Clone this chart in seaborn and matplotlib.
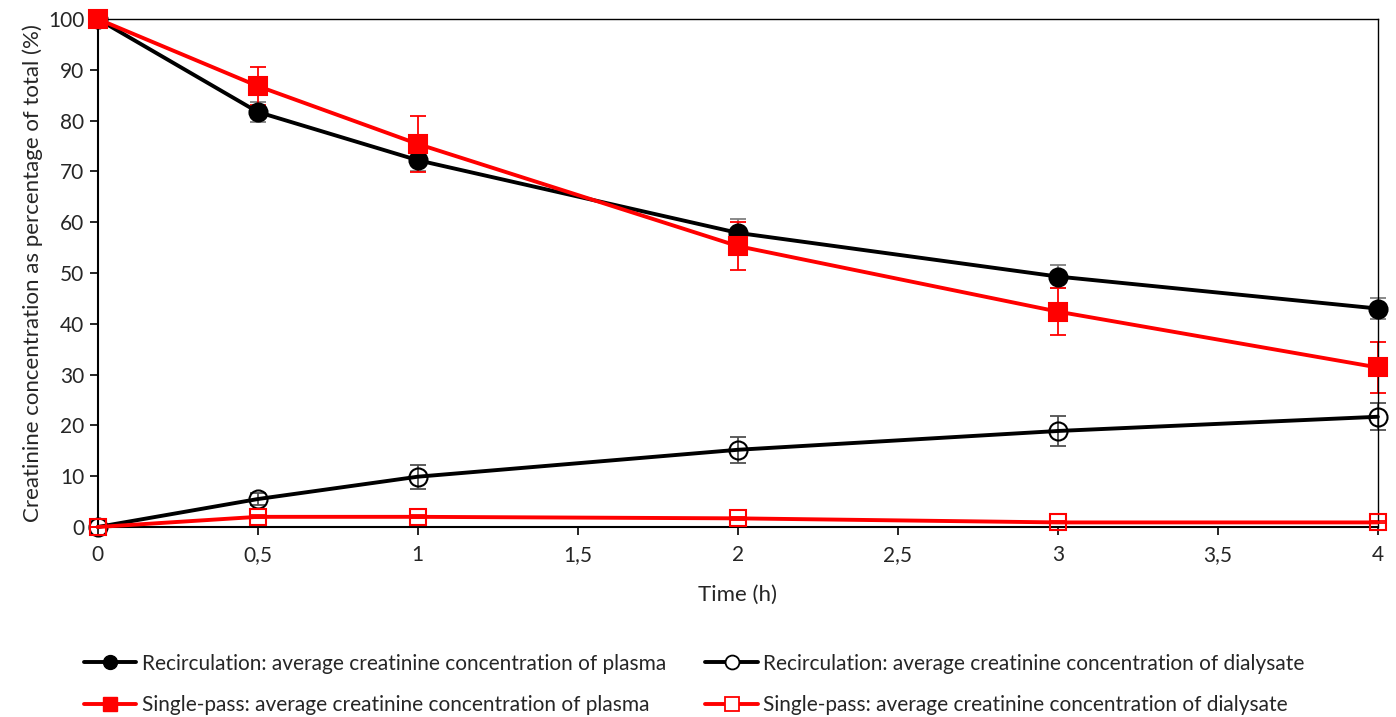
import numpy as np
import pandas as pd
import matplotlib
matplotlib.use('Agg')
import matplotlib.pyplot as plt
from matplotlib.lines import Line2D
from matplotlib.ticker import FuncFormatter, MultipleLocator
import seaborn as sns

time_h = [0, 0.5, 1, 2, 3, 4]

recirc_plasma = [100, 81.7, 72.2, 57.9, 49.3, 43.0]
recirc_plasma_err = [0, 2.0, 2.2, 2.7, 2.2, 2.0]
recirc_dialysate = [0, 5.5, 9.9, 15.2, 18.9, 21.7]
recirc_dialysate_err = [0, 1.2, 2.4, 2.6, 3.0, 2.7]
single_plasma = [100, 86.8, 75.4, 55.3, 42.4, 31.4]
single_plasma_err = [0, 3.7, 5.5, 4.7, 4.7, 5.0]
single_dialysate = [0, 2.0, 2.0, 1.7, 0.9, 0.9]
single_dialysate_err = [0, 0.3, 0.3, 0.3, 0.2, 0.2]

labels = [
    'Recirculation: average creatinine concentration of plasma',
    'Recirculation: average creatinine concentration of dialysate',
    'Single-pass: average creatinine concentration of plasma',
    'Single-pass: average creatinine concentration of dialysate',
]

sns.set_style('white')
plt.rcParams['font.family'] = ['Lato', 'DejaVu Sans']

fig = plt.figure(figsize=(13.96, 7.17), dpi=100)
ax = fig.add_axes([0.070, 0.265, 0.917, 0.7085])

series = [
    (recirc_plasma, recirc_plasma_err, 'black', '#808080', 'o', 'black', 13),
    (recirc_dialysate, recirc_dialysate_err, 'black', '#505050', 'o', 'none', 13),
    (single_plasma, single_plasma_err, 'red', 'red', 's', 'red', 13),
    (single_dialysate, single_dialysate_err, 'red', 'red', 's', 'none', 12),
]

for vals, errs, col, ecol, mk, face, ms in series:
    ax.errorbar(time_h, vals, yerr=errs, fmt='none', ecolor=ecol,
                elinewidth=1.3, capsize=6, capthick=1.3, zorder=2, clip_on=False)
    df = pd.DataFrame({'t': time_h, 'v': vals})
    sns.lineplot(data=df, x='t', y='v', ax=ax, color=col, linewidth=2.8,
                 marker=mk, markersize=ms, markerfacecolor=face,
                 markeredgecolor=col, markeredgewidth=1.5, zorder=3,
                 clip_on=False)

ax.set_xlim(0, 4)
ax.set_ylim(0, 100)
ax.xaxis.set_major_locator(MultipleLocator(0.5))
ax.yaxis.set_major_locator(MultipleLocator(10))
ax.xaxis.set_major_formatter(FuncFormatter(lambda v, p: f'{v:g}'.replace('.', ',')))
ax.tick_params(axis='both', direction='out', length=6, width=1.2, color='black',
               labelsize=15, bottom=True, left=True)
ax.tick_params(axis='x', pad=7)
for side, sp in ax.spines.items():
    sp.set_color('black')
    sp.set_linewidth(1.5 if side in ('left', 'bottom') else 1.0)

ax.set_xlabel('Time (h)', fontsize=16, labelpad=14)
ax.set_ylabel('Creatinine concentration as percentage of total (%)', fontsize=16, labelpad=4)

handles = [
    Line2D([], [], color='black', lw=2.8, marker='o', ms=10, mfc='black', mec='black'),
    Line2D([], [], color='black', lw=2.8, marker='o', ms=10, mfc='white', mec='black', mew=1.3),
    Line2D([], [], color='red', lw=2.8, marker='s', ms=10, mfc='red', mec='red'),
    Line2D([], [], color='red', lw=2.8, marker='s', ms=10, mfc='white', mec='red', mew=1.3),
]
order = [0, 2, 1, 3]
fig.legend([handles[i] for i in order], [labels[i] for i in order],
           loc='lower left', bbox_to_anchor=(0.047, -0.024), ncol=2, frameon=False,
           fontsize=15, handlelength=2.5, handletextpad=0.25, columnspacing=1.9,
           labelspacing=1.05)

fig.savefig('out.png', dpi=100)
